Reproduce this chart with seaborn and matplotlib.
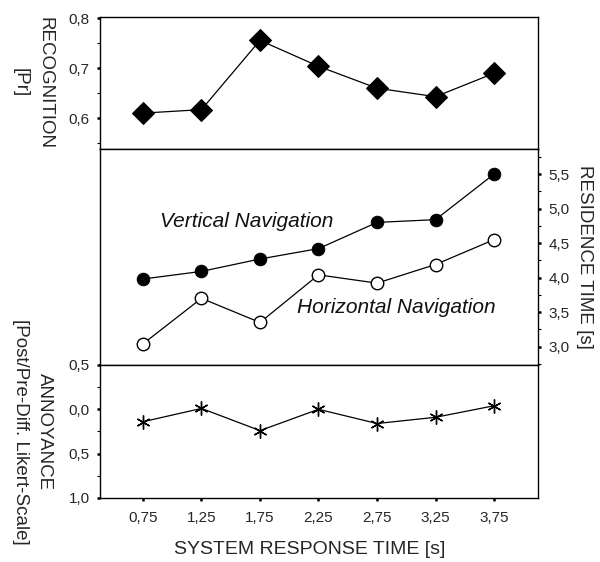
import matplotlib
matplotlib.use("Agg")
import matplotlib.pyplot as plt
import numpy as np
import pandas as pd
import seaborn as sns
from matplotlib.ticker import FuncFormatter, MultipleLocator

# data
response_time = [0.75, 1.25, 1.75, 2.25, 2.75, 3.25, 3.75]
recognition = [0.610, 0.617, 0.756, 0.704, 0.660, 0.643, 0.690]
residence_vertical = [3.98, 4.09, 4.27, 4.42, 4.80, 4.84, 5.50]
residence_horizontal = [3.04, 3.70, 3.35, 4.04, 3.92, 4.19, 4.55]
annoyance = [0.14, -0.01, 0.24, 0.00, 0.16, 0.09, -0.04]

sns.set_style("ticks")
plt.rcParams['font.family'] = ['Liberation Sans', 'DejaVu Sans']

fig, (ax1, ax2, ax3) = plt.subplots(
    3, 1, figsize=(6, 5.62), dpi=100, sharex=True,
    gridspec_kw={'height_ratios': [132, 216, 133], 'hspace': 0})
fig.subplots_adjust(left=0.1667, right=0.8967, top=0.9698, bottom=0.1139)

comma1 = FuncFormatter(lambda v, p: f"{v:.1f}".replace('.', ','))
comma_abs = FuncFormatter(lambda v, p: f"{abs(v):.1f}".replace('.', ','))
comma2 = FuncFormatter(lambda v, p: f"{v:.2f}".replace('.', ','))

# top: recognition
sns.lineplot(x=response_time, y=recognition, color='black', linewidth=0.9,
             marker='D', markersize=11, markeredgecolor='black', ax=ax1)
ax1.set_ylim(0.538, 0.803)
ax1.yaxis.set_major_locator(MultipleLocator(0.1))
ax1.yaxis.set_minor_locator(MultipleLocator(0.05))
ax1.yaxis.set_major_formatter(comma1)

# middle: residence time on right axis
sns.lineplot(x=response_time, y=residence_vertical, color='black', linewidth=0.9,
             marker='o', markersize=9, markeredgecolor='black', ax=ax2)
sns.lineplot(x=response_time, y=residence_horizontal, color='black', linewidth=0.9,
             marker='o', markersize=9, markerfacecolor='white',
             markeredgecolor='black', markeredgewidth=1, ax=ax2)
ax2.set_ylim(2.734, 5.864)
ax2.yaxis.tick_right()
ax2.yaxis.set_major_locator(MultipleLocator(0.5))
ax2.yaxis.set_minor_locator(MultipleLocator(0.25))
ax2.yaxis.set_major_formatter(comma1)
ax2.text(0.895, 4.81, "Vertical Navigation", style='italic', fontsize=15,
         va='center', ha='left', color='#111111')
ax2.text(2.07, 3.56, "Horizontal Navigation", style='italic', fontsize=15,
         va='center', ha='left', color='#111111')

# bottom: annoyance (inverted)
sns.lineplot(x=response_time, y=annoyance, color='black', linewidth=0.9,
             marker=(6, 2, 0), markersize=10, markeredgecolor='black',
             markeredgewidth=1, ax=ax3)
ax3.set_ylim(1.0, -0.5)
ax3.yaxis.set_major_locator(MultipleLocator(0.5))
ax3.yaxis.set_minor_locator(MultipleLocator(0.25))
ax3.yaxis.set_major_formatter(comma_abs)

ax3.set_xlim(0.383, 4.126)
ax3.set_xticks(response_time)
ax3.xaxis.set_major_formatter(comma2)

for ax in (ax1, ax2, ax3):
    for s in ax.spines.values():
        s.set_visible(True)
        s.set_linewidth(1)
        s.set_color('black')
    ax.tick_params(axis='x', which='major', direction='out', length=2.5,
                   width=1.8, color='black', labelsize=11, pad=7)
    ax.tick_params(axis='y', which='major', direction='out', length=2.5,
                   width=1.8, color='black', labelsize=11, pad=5)
    ax.tick_params(axis='y', which='minor', direction='out', length=2,
                   width=0.8, color='black')
    ax.set_xlabel('')
    ax.set_ylabel('')
ax1.tick_params(axis='x', labelbottom=False)
ax2.tick_params(axis='x', labelbottom=False)

ax1.text(-0.154, 0.5, "RECOGNITION\n[Pr]", rotation=-90, transform=ax1.transAxes,
         ha='center', va='center', multialignment='center', fontsize=13.5,
         linespacing=1.6)
ax2.text(1.105, 0.5, "RESIDENCE TIME [s]", rotation=-90, transform=ax2.transAxes,
         ha='center', va='center', fontsize=13.5)
ax3.text(-0.154, 0.5, "ANNOYANCE\n[Post/Pre-Diff. Likert-Scale]", rotation=-90,
         transform=ax3.transAxes, ha='center', va='center',
         multialignment='center', fontsize=13.5, linespacing=1.6)
fig.text(310 / 600, 1 - 550 / 562, "SYSTEM RESPONSE TIME [s]", ha='center',
         va='center', fontsize=14)

fig.savefig('out.png', dpi=100)
